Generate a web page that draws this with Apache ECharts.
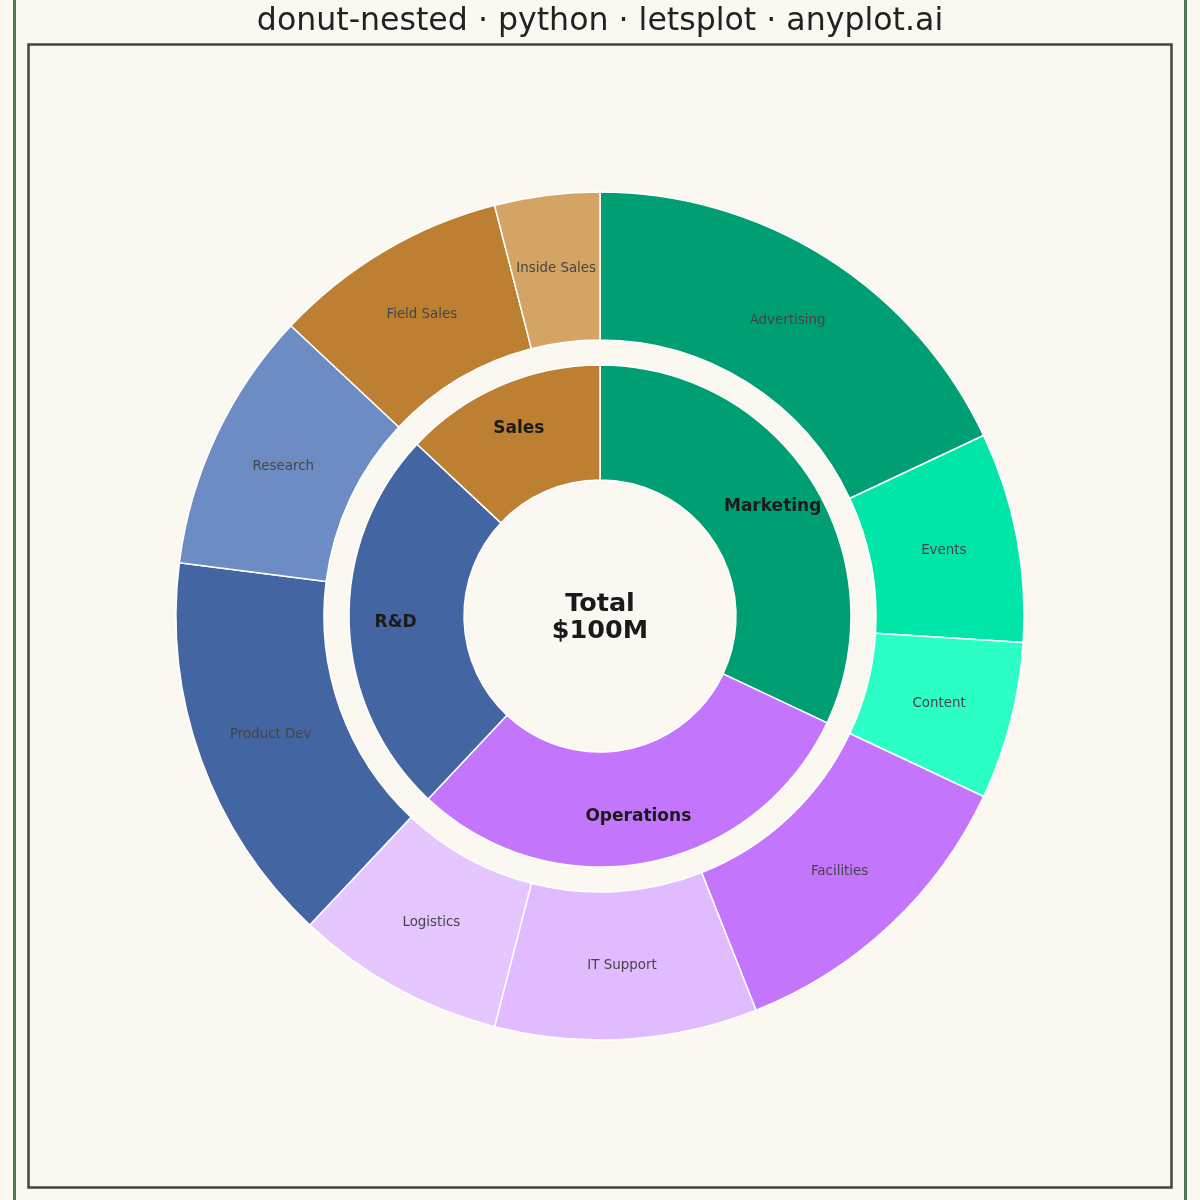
<!DOCTYPE html>
<html>
<head>
<meta charset="utf-8">
<script src="https://cdn.jsdelivr.net/npm/echarts@6/dist/echarts.min.js"></script>
<style>
html,body{margin:0;padding:0;background:#FAF8F1;}
#chart{width:1200px;height:1200px;}
</style>
</head>
<body>
<div id="chart"></div>
<script>
const departments = ['Marketing', 'Operations', 'R&D', 'Sales'];
const departmentValues = [32, 30, 25, 13];
const departmentColors = ['#009E73', '#C375FC', '#4366A2', '#BD8033'];

const subcategories = ['Advertising', 'Events', 'Content', 'Facilities', 'IT Support', 'Logistics', 'Product Dev', 'Research', 'Field Sales', 'Inside Sales'];
const subcategoryValues = [18, 8, 6, 12, 10, 8, 15, 10, 9, 4];
const subcategoryColors = ['#009E73', '#00E5A8', '#2CFFC6', '#C375FC', '#E0BBFF', '#E6C6FF', '#4366A2', '#6C8CC3', '#BD8033', '#D4A464'];

const titleText = 'donut-nested · python · letsplot · anyplot.ai';
const centerText = 'Total\n$100M';

const chart = echarts.init(document.getElementById('chart'), null, {renderer: 'canvas'});

const innerData = departments.map((d, i) => ({name: d, value: departmentValues[i], itemStyle: {color: departmentColors[i]}}));
const innerLabelData = departments.map((d, i) => ({name: d, value: departmentValues[i]}));
const outerData = subcategories.map((d, i) => ({name: d, value: subcategoryValues[i], itemStyle: {color: subcategoryColors[i]}}));
const outerLabelData = subcategories.map((d, i) => ({name: d, value: subcategoryValues[i]}));

const center = [600, 616];

const ringBase = {
  type: 'pie',
  center: center,
  startAngle: 90,
  clockwise: true,
  labelLine: {show: false},
  emphasis: {disabled: true}
};

chart.setOption({
  backgroundColor: '#FAF8F1',
  animation: false,
  title: {
    text: titleText,
    left: 'center',
    top: 1,
    textStyle: {fontFamily: 'DejaVu Sans', fontSize: 31.6, fontWeight: 'normal', color: '#222222'}
  },
  graphic: [
    {type: 'line', shape: {x1: 14.5, y1: 0, x2: 14.5, y2: 1200}, style: {stroke: '#4A7A50', lineWidth: 3}, silent: true},
    {type: 'line', shape: {x1: 1185.5, y1: 0, x2: 1185.5, y2: 1200}, style: {stroke: '#4A7A50', lineWidth: 3}, silent: true},
    {type: 'rect', shape: {x: 28.5, y: 44.5, width: 1143, height: 1143}, style: {fill: 'none', stroke: '#444444', lineWidth: 2.5}, silent: true},
    {type: 'text', x: 600, y: 617.5, style: {text: centerText, x: 0, y: 0, align: 'center', verticalAlign: 'middle', font: 'bold 25.5px "DejaVu Sans"', fill: '#1A1A1A', lineHeight: 27}, z: 10}
  ],
  series: [
    Object.assign({}, ringBase, {
      radius: [136, 251],
      data: innerData,
      label: {show: false},
      itemStyle: {borderColor: '#FFFFFF', borderWidth: 1.5}
    }),
    Object.assign({}, ringBase, {
      radius: [276, 424],
      data: outerData,
      label: {show: false},
      itemStyle: {borderColor: '#FFFFFF', borderWidth: 1.5}
    }),
    Object.assign({}, ringBase, {
      radius: [152, 251],
      silent: true,
      data: innerLabelData,
      itemStyle: {color: 'rgba(0,0,0,0)', borderWidth: 0},
      label: {show: true, position: 'inside', fontFamily: 'DejaVu Sans', fontSize: 17, fontWeight: 'bold', color: '#1A1A1A'},
      z: 5
    }),
    Object.assign({}, ringBase, {
      radius: [270, 424],
      silent: true,
      data: outerLabelData,
      itemStyle: {color: 'rgba(0,0,0,0)', borderWidth: 0},
      label: {show: true, position: 'inside', fontFamily: 'DejaVu Sans', fontSize: 13.4, color: '#454545'},
      z: 5
    })
  ]
});
</script>
</body>
</html>
